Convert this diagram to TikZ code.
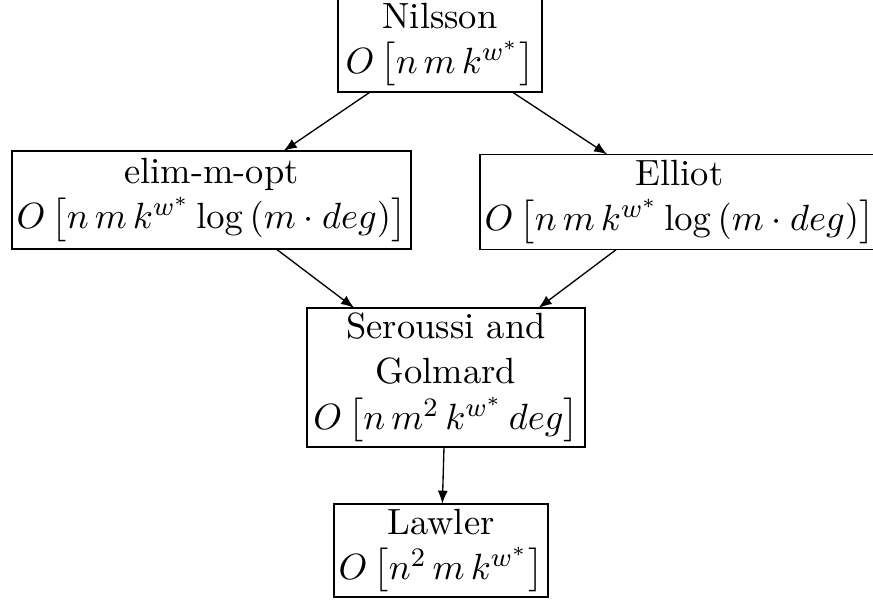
\documentclass[tikz,border=0pt]{standalone}
\usepackage{amsmath}
\begin{document}
\begin{tikzpicture}[x=0.3pt,y=-0.3pt,
  algbox/.style={draw,align=center,inner sep=0pt,outer sep=0pt,
    font=\fontsize{10.95}{13.6}\selectfont},
  link/.style={-latex}]
\useasboundingbox (0,0) rectangle (873,600);
\node[algbox,minimum width=204*0.3pt,minimum height=95*0.3pt] (nil) at (440,44.5)
  {Nilsson\\$O\left[n\,m\,k^{w^*}\right]$};
\node[algbox,minimum width=399*0.3pt,minimum height=98*0.3pt] (elim) at (211.5,200)
  {elim-m-opt\\$O\left[n\,m\,k^{w^*}\log\left(m\cdot deg\right)\right]$};
\node[algbox,minimum width=399*0.3pt,minimum height=95*0.3pt] (ell) at (679.5,202)
  {Elliot\\$O\left[n\,m\,k^{w^*}\log\left(m\cdot deg\right)\right]$};
\node[algbox,minimum width=278*0.3pt,minimum height=139*0.3pt] (ser) at (446,377.5)
  {Seroussi and\\Golmard\\$O\left[n\,m^2\,k^{w^*}\,deg\right]$};
\node[algbox,minimum width=214*0.3pt,minimum height=93*0.3pt] (law) at (441,550.5)
  {Lawler\\$O\left[n^2\,m\,k^{w^*}\right]$};
\draw[link] (nil) -- (elim);
\draw[link] (nil) -- (ell);
\draw[link] (elim) -- (ser);
\draw[link] (ell) -- (ser);
\draw[link] (ser) -- (law);
\end{tikzpicture}
\end{document}
